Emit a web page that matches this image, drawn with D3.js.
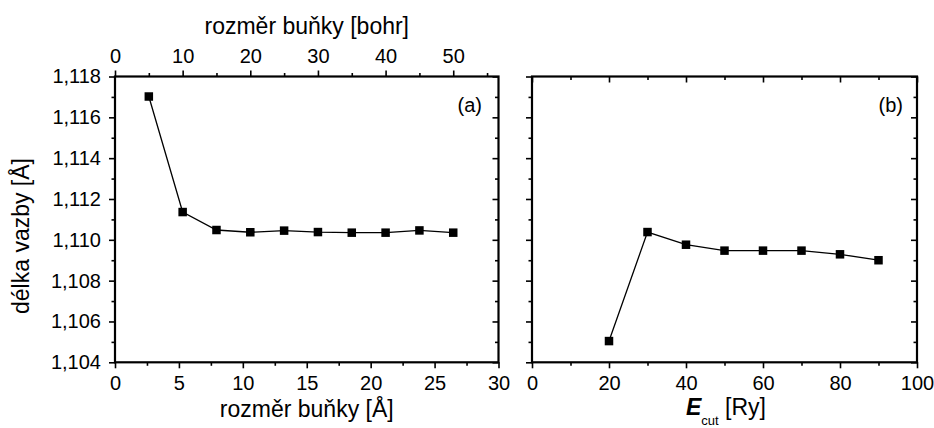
<!DOCTYPE html>
<html>
<head>
<meta charset="utf-8">
<script src="https://cdn.jsdelivr.net/npm/d3@7"></script>
<style>
  html, body { margin: 0; padding: 0; background: #fff; }
  svg { display: block; }
  text { font-family: "Liberation Sans", Arial, Helvetica, sans-serif; fill: #000; }
</style>
</head>
<body>
<svg id="chart" width="934" height="428"></svg>
<script>
// ---- data ----
const cellBohr = [5, 10, 15, 20, 25, 30, 35, 40, 45, 50];
const bondA = [1.11702, 1.11136, 1.11048, 1.11037, 1.11045, 1.11038, 1.11035, 1.11035, 1.11046, 1.11035];
const ecut = [20, 30, 40, 50, 60, 70, 80, 90];
const bondB = [1.10504, 1.11038, 1.10976, 1.10947, 1.10947, 1.10947, 1.10929, 1.10900];

const yTicks = [1.104, 1.106, 1.108, 1.110, 1.112, 1.114, 1.116, 1.118];
const yMinor = [1.105, 1.107, 1.109, 1.111, 1.113, 1.115, 1.117];
const xATicks = [0, 5, 10, 15, 20, 25, 30];
const xAMinor = [2.5, 7.5, 12.5, 17.5, 22.5, 27.5];
const bohrTicks = [0, 10, 20, 30, 40, 50];
const bohrMinor = [5, 15, 25, 35, 45, 55];
const xBTicks = [0, 20, 40, 60, 80, 100];
const xBMinor = [10, 30, 50, 70, 90];
const BOHR_PER_A = 1.8897;

// ---- layout ----
const svg = d3.select("#chart");
const plotTop = 76.5, plotBottom = 362.3;
const pA = { l: 115, r: 498.5 };
const pB = { l: 532, r: 917 };

const y = d3.scaleLinear().domain([1.104, 1.118]).range([plotBottom, plotTop]);
const xA = d3.scaleLinear().domain([0, 30]).range([pA.l, pA.r]);
const xBohr = d3.scaleLinear().domain([0, 30 * BOHR_PER_A]).range([pA.l, pA.r]);
const xB = d3.scaleLinear().domain([0, 100]).range([pB.l, pB.r]);

const loc = d3.formatLocale({ decimal: ",", thousands: " ", grouping: [3], currency: ["", ""] });
const fy = loc.format(".3f");

const MAJ = 6, MIN = 3.5;
const tickFont = 20;

function styleAxis(g) {
  g.select(".domain").remove();
  g.selectAll("line").attr("stroke", "#000").attr("stroke-width", 1.6);
  g.selectAll("text").style("font-size", tickFont + "px").attr("fill", "#000");
}

function axis(gen, scale, vals, size, fmt, tf, pad) {
  const a = gen(scale).tickValues(vals).tickSize(size).tickSizeOuter(0).tickPadding(pad == null ? 3 : pad);
  a.tickFormat(fmt ? fmt : () => "");
  const g = svg.append("g").attr("transform", tf).call(a);
  styleAxis(g);
  return g;
}

// Panel A axes
axis(d3.axisLeft, y, yTicks, MAJ, fy, `translate(${pA.l},0)`, 8);
axis(d3.axisLeft, y, yMinor, MIN, null, `translate(${pA.l},0)`);
axis(d3.axisRight, y, yTicks, -MAJ, null, `translate(${pA.r},0)`);
axis(d3.axisRight, y, yMinor, -MIN, null, `translate(${pA.r},0)`);
axis(d3.axisBottom, xA, xATicks, MAJ, d3.format("d"), `translate(0,${plotBottom})`, 8);
axis(d3.axisBottom, xA, xAMinor, MIN, null, `translate(0,${plotBottom})`);
axis(d3.axisTop, xBohr, bohrTicks, MAJ, d3.format("d"), `translate(0,${plotTop})`, 7.5);
axis(d3.axisTop, xBohr, bohrMinor, MIN, null, `translate(0,${plotTop})`);

// Panel B axes
axis(d3.axisLeft, y, yTicks, MAJ, null, `translate(${pB.l},0)`);
axis(d3.axisLeft, y, yMinor, MIN, null, `translate(${pB.l},0)`);
axis(d3.axisRight, y, yTicks, -MAJ, null, `translate(${pB.r},0)`);
axis(d3.axisRight, y, yMinor, -MIN, null, `translate(${pB.r},0)`);
axis(d3.axisBottom, xB, xBTicks, MAJ, d3.format("d"), `translate(0,${plotBottom})`, 8);
axis(d3.axisBottom, xB, xBMinor, MIN, null, `translate(0,${plotBottom})`);
axis(d3.axisTop, xB, xBTicks, -MAJ, null, `translate(0,${plotTop})`);
axis(d3.axisTop, xB, xBMinor, -MIN, null, `translate(0,${plotTop})`);

// frames
[pA, pB].forEach(p => {
  svg.append("rect").attr("x", p.l).attr("y", plotTop).attr("width", p.r - p.l).attr("height", plotBottom - plotTop)
    .attr("fill", "none").attr("stroke", "#000").attr("stroke-width", 2.2);
});

// data lines and markers
const M = 8.5;
function series(xs, ys, xScale) {
  const pts = xs.map((d, i) => [xScale(d), y(ys[i])]);
  svg.append("path").attr("d", d3.line()(pts)).attr("fill", "none").attr("stroke", "#000").attr("stroke-width", 1.3);
  svg.append("g").selectAll("rect").data(pts).join("rect")
    .attr("x", d => d[0] - M / 2).attr("y", d => d[1] - M / 2).attr("width", M).attr("height", M)
    .attr("fill", "#000");
}
series(cellBohr, bondA, xBohr);
series(ecut, bondB, xB);

// labels
const titleFont = 23;
svg.append("text").attr("x", (pA.l + pA.r) / 2).attr("y", 417).attr("text-anchor", "middle")
  .style("font-size", titleFont + "px").text("rozměr buňky [Å]");
svg.append("text").attr("x", (pA.l + pA.r) / 2).attr("y", 34).attr("text-anchor", "middle")
  .style("font-size", titleFont + "px").text("rozměr buňky [bohr]");
svg.append("text").attr("transform", `translate(29,236) rotate(-90)`).attr("text-anchor", "middle")
  .style("font-size", titleFont + "px").text("délka vazby [Å]");

const et = svg.append("text").attr("x", 726).attr("y", 415).attr("text-anchor", "middle").style("font-size", titleFont + "px");
et.append("tspan").style("font-weight", "bold").style("font-style", "italic").text("E");
et.append("tspan").attr("dy", 10).style("font-size", "13px").text("cut");
et.append("tspan").attr("dy", -10).text(" [Ry]");

svg.append("text").attr("x", 482).attr("y", 112).attr("text-anchor", "end").style("font-size", "20px").text("(a)");
svg.append("text").attr("x", 903).attr("y", 112).attr("text-anchor", "end").style("font-size", "20px").text("(b)");
</script>
</body>
</html>
